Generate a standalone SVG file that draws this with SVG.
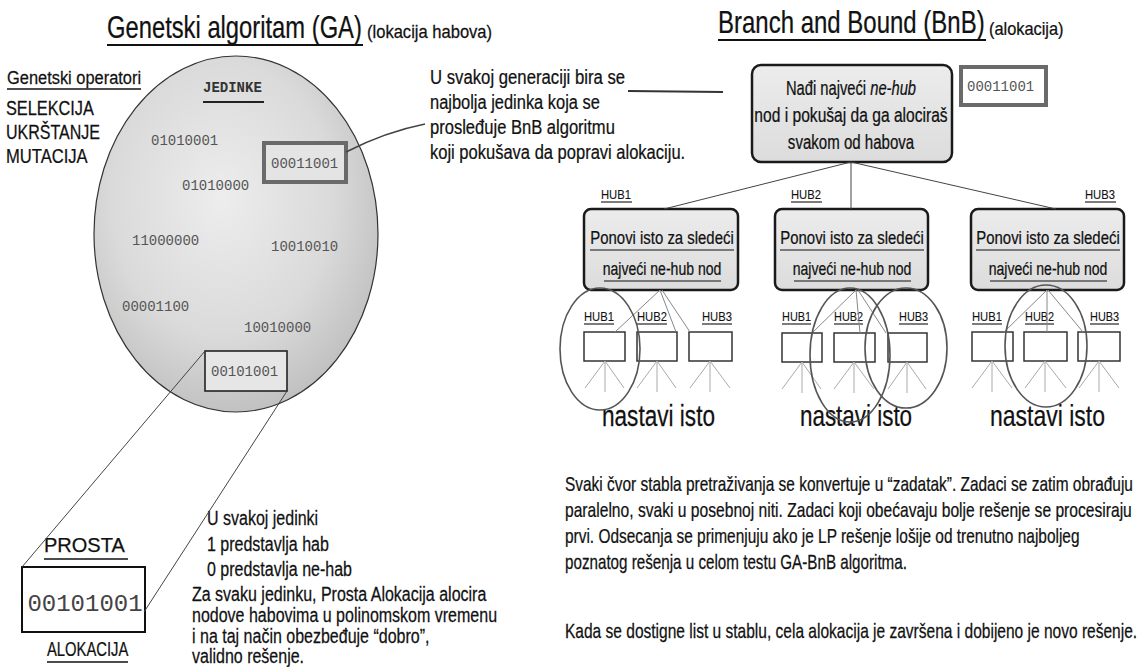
<svg xmlns="http://www.w3.org/2000/svg" width="1141" height="667" viewBox="0 0 1141 667">
<defs>
<radialGradient id="popg" cx="0.45" cy="0.4" r="0.65">
<stop offset="0" stop-color="#ededed"/>
<stop offset="0.6" stop-color="#dadada"/>
<stop offset="1" stop-color="#bcbcbc"/>
</radialGradient>
<linearGradient id="boxg" x1="0" y1="0" x2="0" y2="1">
<stop offset="0" stop-color="#ececec"/>
<stop offset="1" stop-color="#dcdcdc"/>
</linearGradient>
<style>
text{font-family:"Liberation Sans",Arial,sans-serif;fill:#111;stroke:#111;stroke-width:0.25}
.mono{font-family:"Liberation Mono","Courier New",monospace;fill:#555;stroke:none;font-size:14px}
.t31{font-size:31px}
.t30{font-size:30px}
.t21{font-size:21px}
.t20{font-size:20px}
.t19{font-size:19px}
.t18{font-size:18px}
.hub{font-size:13px;stroke-width:0.1}
.ul{stroke:#111;stroke-width:1.6}
.ulthin{stroke:#111;stroke-width:1.1}
.bigbox{fill:url(#boxg);stroke:#1a1a1a;stroke-width:2.5}
.midbox{fill:url(#boxg);stroke:#1a1a1a;stroke-width:2.5}
.sbox{fill:#fff;stroke:#333;stroke-width:1.5}
.grayframe{fill:#fff;stroke:#6a6a6a;stroke-width:4}
.conn{stroke:#444;stroke-width:1;fill:none}
.fan{stroke:#aaa;stroke-width:1;fill:none}
.ring{fill:none;stroke:#555;stroke-width:1.6}
.mid{text-anchor:middle}
</style>
</defs>
<rect width="1141" height="667" fill="#fff"/>

<g id="ga-title">
<text class="t31" transform="translate(107 38) scale(0.767 1)">Genetski algoritam (GA)</text>
<line class="ul" x1="107" y1="45" x2="363" y2="45" style="stroke-width:2"/>
<text class="t18" transform="translate(367 38) scale(0.92 1)">(lokacija habova)</text>
</g>

<g id="operators">
<text class="t19" transform="translate(7 84) scale(0.864 1)">Genetski operatori</text>
<line class="ul" x1="7" y1="89" x2="141" y2="89"/>
<text class="t20" transform="translate(6 115) scale(0.815 1)">SELEKCIJA</text>
<text class="t20" transform="translate(6 139) scale(0.8 1)">UKRŠTANJE</text>
<text class="t20" transform="translate(6 163) scale(0.83 1)">MUTACIJA</text>
</g>

<g id="population">
<ellipse cx="236" cy="234" rx="142" ry="178" fill="url(#popg)" stroke="#333" stroke-width="1.2"/>
<text class="mono" x="203" y="92" style="font-weight:bold;fill:#333">JEDINKE</text>
<line x1="203" y1="102" x2="264" y2="102" stroke="#222" stroke-width="2"/>
<text class="mono" x="151" y="145">01010001</text>
<text class="mono" x="182" y="190">01010000</text>
<text class="mono" x="132" y="245">11000000</text>
<text class="mono" x="271" y="251">10010010</text>
<text class="mono" x="122" y="311">00001100</text>
<text class="mono" x="244" y="332">10010000</text>
</g>

<g id="best-individual">
<rect class="grayframe" x="264" y="143" width="82" height="39" style="fill:#e4e4e4"/>
<text class="mono" x="271" y="168">00011001</text>
</g>

<g id="selected-individual">
<rect x="205" y="351" width="82" height="40" fill="#e6e6e6" stroke="#222" stroke-width="1.6"/>
<text class="mono" x="211" y="376">00101001</text>
</g>

<g id="callout">
<text class="t21" transform="translate(430 84) scale(0.79 1)" textLength="247" lengthAdjust="spacingAndGlyphs">U svakoj generaciji bira se</text>
<text class="t21" transform="translate(430 109) scale(0.79 1)" textLength="215" lengthAdjust="spacingAndGlyphs">najbolja jedinka koja se</text>
<text class="t21" transform="translate(430 134) scale(0.79 1)" textLength="234" lengthAdjust="spacingAndGlyphs">prosleđuje BnB algoritmu</text>
<text class="t21" transform="translate(430 159) scale(0.79 1)" textLength="323" lengthAdjust="spacingAndGlyphs">koji pokušava da popravi alokaciju.</text>
</g>

<g id="simple-allocation">
<text class="t20" x="44" y="552">PROSTA</text>
<line class="ul" x1="44" y1="559" x2="128" y2="559"/>
<rect x="22" y="567" width="123" height="65" fill="#fff" stroke="#111" stroke-width="2"/>
<text x="85" y="611" class="mid" style="font-family:'Liberation Mono','Courier New',monospace;font-size:24px;fill:#444;stroke:none">00101001</text>
<text class="t20" transform="translate(47 656) scale(0.74 1)">ALOKACIJA</text>
<line class="ul" x1="47" y1="662" x2="128" y2="662"/>
</g>

<g id="encoding-note">
<text class="t20" transform="translate(207 525) scale(0.8 1)">U svakoj jedinki</text>
<text class="t20" transform="translate(207 551) scale(0.8 1)">1 predstavlja hab</text>
<text class="t20" transform="translate(207 576) scale(0.8 1)">0 predstavlja ne-hab</text>
<text class="t20" transform="translate(192 601) scale(0.8 1)">Za svaku jedinku, Prosta Alokacija alocira</text>
<text class="t20" transform="translate(192 622) scale(0.8 1)">nodove habovima u polinomskom vremenu</text>
<text class="t20" transform="translate(192 643) scale(0.8 1)">i na taj način obezbeđuje “dobro”,</text>
<text class="t20" transform="translate(192 663) scale(0.8 1)">validno rešenje.</text>
</g>

<g id="bnb-title">
<text class="t31" transform="translate(718 33) scale(0.774 1)">Branch and Bound (BnB)</text>
<line class="ul" x1="718" y1="40" x2="986" y2="40" style="stroke-width:2"/>
<text class="t18" transform="translate(989 35) scale(0.91 1)">(alokacija)</text>
</g>

<g id="bnb-root">
<rect class="bigbox" x="752" y="65" width="200" height="97" rx="9"/>
<text class="t20 mid" transform="translate(851 95) scale(0.77 1)" textLength="169" lengthAdjust="spacingAndGlyphs">Nađi najveći <tspan font-style="italic">ne-hub</tspan></text>
<text class="t20 mid" transform="translate(851 122) scale(0.77 1)" textLength="251" lengthAdjust="spacingAndGlyphs">nod i pokušaj da ga alociraš</text>
<text class="t20 mid" transform="translate(851 149) scale(0.77 1)" textLength="164" lengthAdjust="spacingAndGlyphs">svakom od habova</text>
</g>

<g id="bnb-input">
<rect class="grayframe" x="961" y="67" width="85" height="38"/>
<text class="mono" x="967" y="91">00011001</text>
</g>

<g id="hub1-branch">
<text class="hub" transform="translate(601 199) scale(0.865 1)">HUB1</text>
<line class="ulthin" x1="601" y1="202" x2="632" y2="202"/>
<rect class="midbox" x="584" y="209" width="154" height="81" rx="7"/>
<text class="t19 mid" transform="translate(662 244) scale(0.785 1)">Ponovi isto za sledeći</text>
<line class="ulthin" x1="590" y1="250" x2="734" y2="250"/>
<text class="t19 mid" transform="translate(662 275) scale(0.74 1)">najveći ne-hub nod</text>
<line class="ulthin" x1="604" y1="281" x2="721" y2="281"/>
</g>

<g id="hub2-branch">
<text class="hub" transform="translate(791 199) scale(0.865 1)">HUB2</text>
<line class="ulthin" x1="791" y1="202" x2="822" y2="202"/>
<rect class="midbox" x="775" y="209" width="153" height="81" rx="7"/>
<text class="t19 mid" transform="translate(852 244) scale(0.785 1)">Ponovi isto za sledeći</text>
<line class="ulthin" x1="780" y1="250" x2="924" y2="250"/>
<text class="t19 mid" transform="translate(852 275) scale(0.74 1)">najveći ne-hub nod</text>
<line class="ulthin" x1="794" y1="281" x2="911" y2="281"/>
</g>

<g id="hub3-branch">
<text class="hub" transform="translate(1085 199) scale(0.865 1)">HUB3</text>
<line class="ulthin" x1="1085" y1="202" x2="1116" y2="202"/>
<rect class="midbox" x="971" y="209" width="153" height="81" rx="7"/>
<text class="t19 mid" transform="translate(1048 244) scale(0.785 1)">Ponovi isto za sledeći</text>
<line class="ulthin" x1="976" y1="250" x2="1120" y2="250"/>
<text class="t19 mid" transform="translate(1048 275) scale(0.74 1)">najveći ne-hub nod</text>
<line class="ulthin" x1="990" y1="281" x2="1107" y2="281"/>
</g>

<g id="subtree1">
<text class="hub" transform="translate(584 321) scale(0.865 1)">HUB1</text>
<line class="ulthin" x1="584" y1="324" x2="614" y2="324"/>
<text class="hub" transform="translate(637 321) scale(0.865 1)">HUB2</text>
<line class="ulthin" x1="637" y1="324" x2="667" y2="324"/>
<text class="hub" transform="translate(702 321) scale(0.865 1)">HUB3</text>
<line class="ulthin" x1="702" y1="324" x2="732" y2="324"/>
<rect class="sbox" x="584" y="332" width="41" height="29"/>
<rect class="sbox" x="637" y="332" width="40" height="29"/>
<rect class="sbox" x="689" y="332" width="43" height="29"/>
<text class="t30" transform="translate(602 426) scale(0.753 1)">nastavi isto</text>
</g>

<g id="subtree2">
<text class="hub" transform="translate(782 321) scale(0.84 1)">HUB1</text>
<line class="ulthin" x1="782" y1="324" x2="811" y2="324"/>
<text class="hub" transform="translate(834 321) scale(0.84 1)">HUB2</text>
<line class="ulthin" x1="834" y1="324" x2="863" y2="324"/>
<text class="hub" transform="translate(899 321) scale(0.84 1)">HUB3</text>
<line class="ulthin" x1="899" y1="324" x2="928" y2="324"/>
<rect class="sbox" x="782" y="333" width="40" height="29"/>
<rect class="sbox" x="834" y="333" width="41" height="29"/>
<rect class="sbox" x="888" y="333" width="39" height="29"/>
<text class="t30" transform="translate(800 426) scale(0.747 1)">nastavi isto</text>
</g>

<g id="subtree3">
<text class="hub" transform="translate(972 321) scale(0.865 1)">HUB1</text>
<line class="ulthin" x1="972" y1="324" x2="1002" y2="324"/>
<text class="hub" transform="translate(1025 321) scale(0.84 1)">HUB2</text>
<line class="ulthin" x1="1025" y1="324" x2="1054" y2="324"/>
<text class="hub" transform="translate(1090 321) scale(0.84 1)">HUB3</text>
<line class="ulthin" x1="1090" y1="324" x2="1119" y2="324"/>
<rect class="sbox" x="972" y="332" width="41" height="29"/>
<rect class="sbox" x="1024" y="332" width="43" height="29"/>
<rect class="sbox" x="1078" y="332" width="42" height="29"/>
<text class="t30" transform="translate(990 426) scale(0.767 1)">nastavi isto</text>
</g>

<g id="explanation">
<text class="t20" transform="translate(565 491) scale(0.772 1)">Svaki čvor stabla pretraživanja se konvertuje u “zadatak”. Zadaci se zatim obrađuju</text>
<text class="t20" transform="translate(565 517) scale(0.781 1)">paralelno, svaki u posebnoj niti. Zadaci koji obećavaju bolje rešenje se procesiraju</text>
<text class="t20" transform="translate(565 543) scale(0.772 1)">prvi. Odsecanja se primenjuju ako je LP rešenje lošije od trenutno najboljeg</text>
<text class="t20" transform="translate(565 569) scale(0.76 1)">poznatog rešenja u celom testu GA-BnB algoritma.</text>
<text class="t20" transform="translate(565 638) scale(0.777 1)">Kada se dostigne list u stablu, cela alokacija je završena i dobijeno je novo rešenje.</text>
</g>

<g id="connectors">
<path class="conn" d="M346,152 Q385,132 425,124" style="stroke-width:1.5"/>
<line x1="628" y1="91" x2="723" y2="92" stroke="#333" stroke-width="2"/>
<line class="conn" x1="205" y1="351" x2="22" y2="567"/>
<line class="conn" x1="287" y1="391" x2="144" y2="612"/>
<line class="conn" x1="851" y1="162" x2="664" y2="209"/>
<line class="conn" x1="851" y1="162" x2="851" y2="209"/>
<line class="conn" x1="851" y1="162" x2="1056" y2="209"/>
<g stroke="#888" stroke-width="1" fill="none">
<line x1="660" y1="290" x2="615" y2="332"/>
<line x1="660" y1="290" x2="676" y2="332"/>
<line x1="662" y1="290" x2="690" y2="332"/>
<line x1="856" y1="290" x2="812" y2="333"/>
<line x1="856" y1="290" x2="860" y2="333"/>
<line x1="858" y1="290" x2="886" y2="333"/>
<line x1="1047" y1="290" x2="1004" y2="332"/>
<line x1="1047" y1="290" x2="1047" y2="332"/>
<line x1="1048" y1="290" x2="1083" y2="332"/>
</g>
<g class="fan">
<path d="M605,361 L585,388 M605,361 L605,392 M605,361 L624,388"/>
<path d="M657,361 L637,388 M657,361 L657,392 M657,361 L676,388"/>
<path d="M710,361 L690,388 M710,361 L710,392 M710,361 L730,388"/>
<path d="M802,362 L782,389 M802,362 L802,393 M802,362 L821,389"/>
<path d="M854,362 L834,389 M854,362 L854,393 M854,362 L874,389"/>
<path d="M907,362 L888,389 M907,362 L907,393 M907,362 L926,389"/>
<path d="M992,361 L972,388 M992,361 L992,392 M992,361 L1012,388"/>
<path d="M1045,361 L1025,388 M1045,361 L1045,392 M1045,361 L1066,388"/>
<path d="M1099,361 L1079,388 M1099,361 L1099,392 M1099,361 L1119,388"/>
</g>
<ellipse class="ring" cx="600" cy="349" rx="40" ry="61"/>
<ellipse class="ring" cx="850" cy="355" rx="40" ry="67"/>
<ellipse class="ring" cx="906" cy="348" rx="41" ry="60"/>
<ellipse class="ring" cx="1046" cy="346" rx="41" ry="61"/>
</g>
</svg>
